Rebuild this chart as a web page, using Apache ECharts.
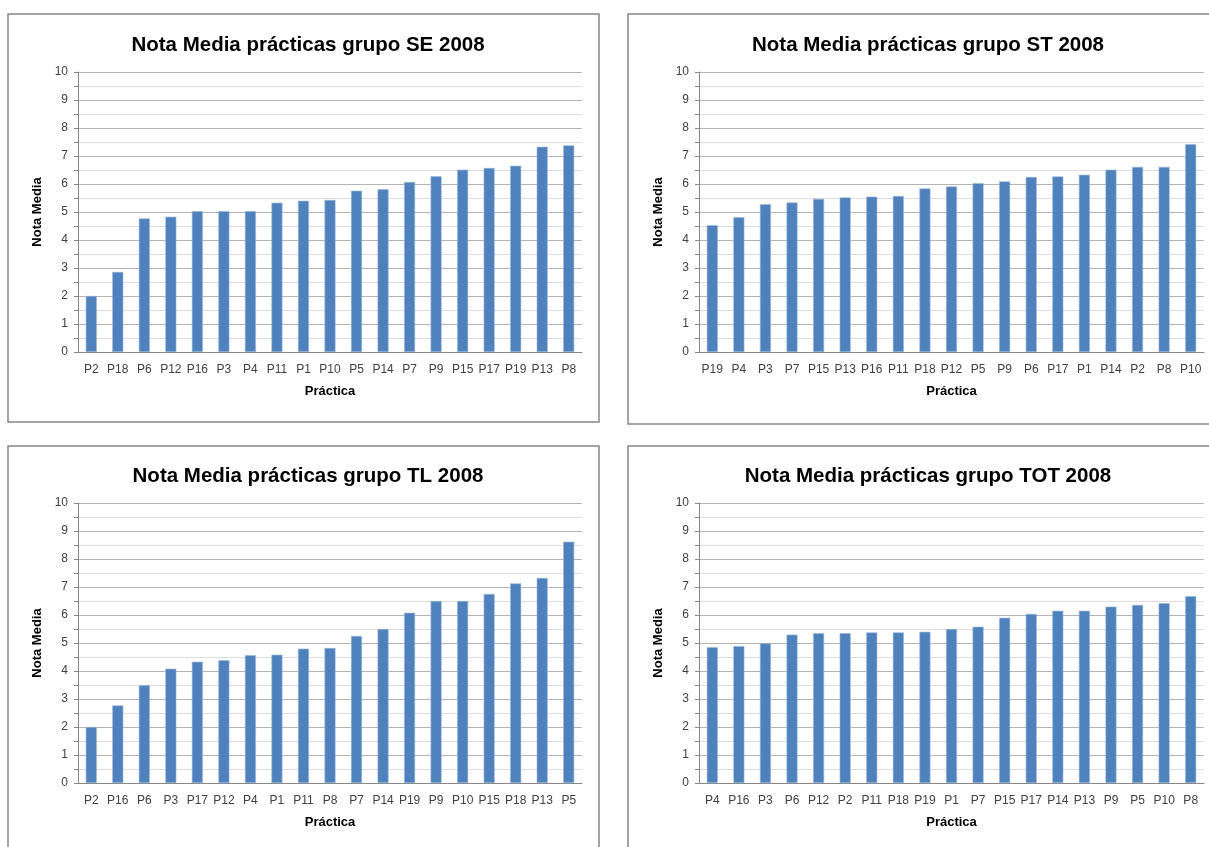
<!DOCTYPE html>
<html>
<head>
<meta charset="utf-8">
<script src="https://cdn.jsdelivr.net/npm/echarts@6/dist/echarts.min.js"></script>
<style>
  html, body { margin: 0; padding: 0; background: #ffffff; }
  #chart { width: 1209px; height: 847px; }
</style>
</head>
<body>
<div id="chart"></div>
<script>
// Average practical-work marks per group, 2008 (sorted ascending per group)
const seCategories = ['P2','P18','P6','P12','P16','P3','P4','P11','P1','P10','P5','P14','P7','P9','P15','P17','P19','P13','P8'];
const seValues = [2.0, 2.86, 4.77, 4.83, 5.03, 5.03, 5.03, 5.33, 5.40, 5.43, 5.76, 5.81, 6.07, 6.28, 6.51, 6.57, 6.65, 7.33, 7.38];

const stCategories = ['P19','P4','P3','P7','P15','P13','P16','P11','P18','P12','P5','P9','P6','P17','P1','P14','P2','P8','P10'];
const stValues = [4.53, 4.81, 5.28, 5.34, 5.47, 5.52, 5.55, 5.57, 5.84, 5.91, 6.03, 6.09, 6.25, 6.27, 6.33, 6.51, 6.61, 6.61, 7.42];

const tlCategories = ['P2','P16','P6','P3','P17','P12','P4','P1','P11','P8','P7','P14','P19','P9','P10','P15','P18','P13','P5'];
const tlValues = [2.0, 2.77, 3.49, 4.08, 4.33, 4.39, 4.56, 4.58, 4.80, 4.82, 5.25, 5.50, 6.08, 6.50, 6.50, 6.75, 7.13, 7.32, 8.62];

const totCategories = ['P4','P16','P3','P6','P12','P2','P11','P18','P19','P1','P7','P15','P17','P14','P13','P9','P5','P10','P8'];
const totValues = [4.85, 4.89, 4.99, 5.30, 5.35, 5.35, 5.38, 5.38, 5.40, 5.50, 5.58, 5.90, 6.04, 6.15, 6.15, 6.30, 6.36, 6.42, 6.67];

const panelTitles = [
  'Nota Media prácticas grupo SE 2008',
  'Nota Media prácticas grupo ST 2008',
  'Nota Media prácticas grupo TL 2008',
  'Nota Media prácticas grupo TOT 2008'
];
const yAxisTitle = 'Nota Media';
const xAxisTitle = 'Práctica';

const FONT = 'Liberation Sans';
const BAR = '#4f81bd';

const panels = [
  { cats: seCategories,  vals: seValues,  frame: [8, 14, 591, 408],   grid: { left: 78,  top: 72,  width: 504, height: 280 }, titleX: 303, titleY: 30 },
  { cats: stCategories,  vals: stValues,  frame: [628, 14, 600, 410], grid: { left: 699, top: 72,  width: 505, height: 280 }, titleX: 923, titleY: 30 },
  { cats: tlCategories,  vals: tlValues,  frame: [8, 446, 591, 420],  grid: { left: 78,  top: 503, width: 504, height: 280 }, titleX: 303, titleY: 461 },
  { cats: totCategories, vals: totValues, frame: [628, 446, 600, 420],grid: { left: 699, top: 503, width: 505, height: 280 }, titleX: 923, titleY: 461 }
];

const chart = echarts.init(document.getElementById('chart'), null, { renderer: 'canvas' });

const option = {
  backgroundColor: '#ffffff',
  animation: false,
  title: panels.map((p, i) => ({
    text: panelTitles[i],
    left: p.titleX,
    top: p.titleY,
    textAlign: 'center',
    textStyle: { fontFamily: FONT, fontWeight: 'bold', fontSize: 20.5, color: '#000000' }
  })),
  graphic: panels.map(p => ({
    type: 'rect',
    silent: true,
    z: -1,
    shape: { x: p.frame[0], y: p.frame[1], width: p.frame[2], height: p.frame[3] },
    style: { fill: '#ffffff', stroke: '#868686', lineWidth: 1.5 }
  })),
  grid: panels.map(p => Object.assign({ containLabel: false }, p.grid)),
  xAxis: panels.map((p, i) => ({
    type: 'category',
    gridIndex: i,
    data: p.cats,
    name: xAxisTitle,
    nameLocation: 'middle',
    nameGap: 33,
    nameTextStyle: { fontFamily: FONT, fontWeight: 'bold', fontSize: 13, color: '#000000' },
    axisLine: { lineStyle: { color: '#868686', width: 1 } },
    axisTick: { show: false },
    axisLabel: { interval: 0, fontFamily: FONT, fontSize: 12, color: '#404040', margin: 12 },
    splitLine: { show: false }
  })),
  yAxis: panels.map((p, i) => ({
    type: 'value',
    gridIndex: i,
    min: 0,
    max: 10,
    interval: 1,
    name: yAxisTitle,
    nameLocation: 'middle',
    nameGap: 34,
    nameRotate: 90,
    nameTextStyle: { fontFamily: FONT, fontWeight: 'bold', fontSize: 13, color: '#000000' },
    axisLine: { show: true, lineStyle: { color: '#868686', width: 1 } },
    axisTick: { show: true, length: 4, lineStyle: { color: '#868686' } },
    minorTick: { show: true, splitNumber: 2, length: 4, lineStyle: { color: '#868686' } },
    axisLabel: { fontFamily: FONT, fontSize: 12, color: '#404040', margin: 10 },
    splitLine: { show: true, lineStyle: { color: '#b4b4b4', width: 1 } },
    minorSplitLine: { show: true, lineStyle: { color: '#dcdcdc', width: 1 } }
  })),
  series: panels.map((p, i) => ({
    type: 'bar',
    xAxisIndex: i,
    yAxisIndex: i,
    data: p.vals,
    barWidth: 11,
    itemStyle: { color: BAR, borderColor: '#9bb7dc', borderWidth: 0.6 }
  }))
};

chart.setOption(option);
</script>
</body>
</html>
